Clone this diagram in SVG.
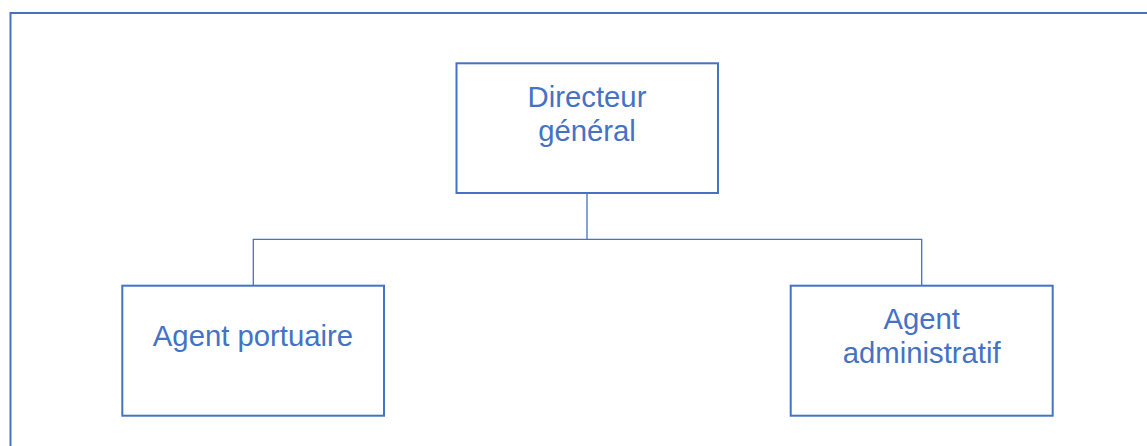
<svg xmlns="http://www.w3.org/2000/svg" width="1147" height="446" viewBox="0 0 1147 446">
<style>
.box{fill:#fff;stroke:#4472C4;stroke-width:2}
.lbl{font-family:"Liberation Sans",Arial,sans-serif;font-size:29.3px;fill:#4472C4;text-anchor:middle}
.con{fill:none;stroke:#4472C4;stroke-width:1.3}
</style>
<rect x="0" y="0" width="1147" height="446" fill="#fff"/>
<rect id="frame" x="10.5" y="13" width="1150" height="450" fill="none" stroke="#4472C4" stroke-width="2"/>
<g id="connectors">
<path class="con" d="M587,193 V239.3 M253.3,285.7 V239.3 H921.7 V285.7"/>
</g>
<g id="directeur">
<rect class="box" x="456.5" y="63.3" width="261.5" height="129.7"/>
<text class="lbl" x="587" y="107">Directeur</text>
<text class="lbl" x="587" y="140.5">général</text>
</g>
<g id="agent-portuaire">
<rect class="box" x="122.3" y="285.7" width="261.7" height="130"/>
<text class="lbl" x="253" y="346">Agent portuaire</text>
</g>
<g id="agent-administratif">
<rect class="box" x="790.7" y="285.7" width="262" height="130"/>
<text class="lbl" x="921.7" y="329">Agent</text>
<text class="lbl" x="921.7" y="362.7">administratif</text>
</g>
</svg>
